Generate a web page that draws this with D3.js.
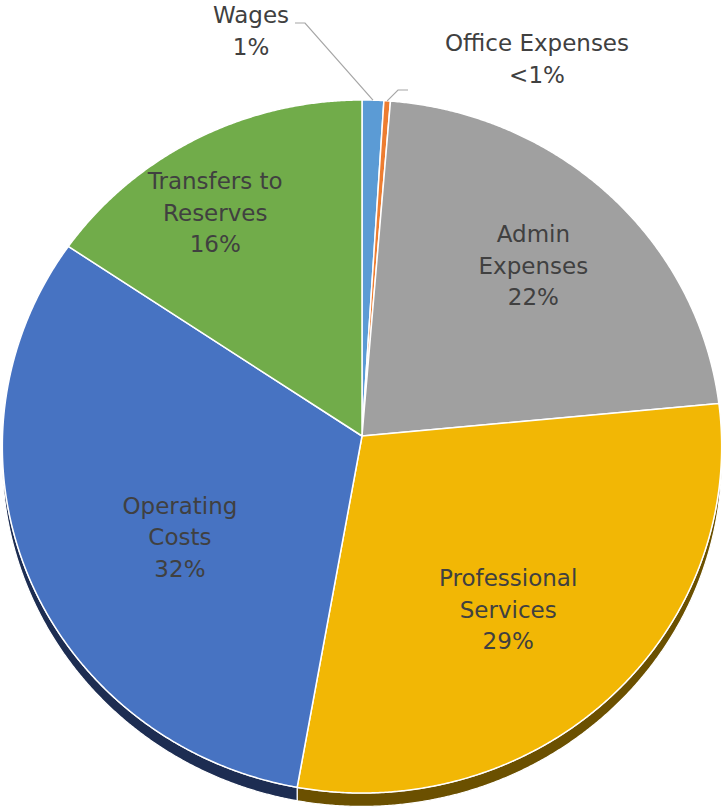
<!DOCTYPE html>
<html>
<head>
<meta charset="utf-8">
<script src="https://cdn.jsdelivr.net/npm/d3@7"></script>
<style>
  html, body { margin: 0; padding: 0; background: #fff; }
  svg { display: block; }
  text { font-family: "DejaVu Sans", sans-serif; font-size: 23px; fill: #404040; }
</style>
</head>
<body>
<svg id="chart" width="723" height="809"></svg>
<script>
// data (share of total, %)
var categories = ["Wages", "Office Expenses", "Admin Expenses", "Professional Services", "Operating Costs", "Transfers to Reserves"];
var values = [1.0, 0.3, 22.2, 29.3, 31.6, 15.6];
var labelLines = [["Wages"], ["Office Expenses"], ["Admin", "Expenses"], ["Professional", "Services"], ["Operating", "Costs"], ["Transfers to", "Reserves"]];

var faceColors = ["#5b9bd5", "#ed7d31", "#a0a0a0", "#f2b705", "#4773c2", "#71ac4a"];
var sideColors = ["#2a4a68", "#6e3a14", "#4d4d4d", "#6b5000", "#1d2d52", "#34521f"];

var svg = d3.select("#chart");

// tilted disc with a little perspective
var cx = 362, cy = 436;
var sx = 359.5, sy = 346.2, persp = 0.0303, depth = 13;

function proj(theta, r, drop) {
  var u = r * Math.sin(theta), v = r * Math.cos(theta);
  var k = 1 / (1 + persp * v);
  return [cx + sx * u * k, cy - sy * v * k + (drop || 0) * k];
}

function arcPoints(a0, a1, r, drop) {
  var n = Math.max(2, Math.ceil((a1 - a0) / 0.005));
  var pts = [];
  for (var i = 0; i <= n; i++) pts.push(proj(a0 + (a1 - a0) * i / n, r, drop));
  return pts;
}

var pie = d3.pie().sort(null).value(function(d) { return d; });
var arcs = pie(values);
var line = d3.line();
var total = d3.sum(values);

// side wall (only the front half shows)
var frontA = Math.PI / 2, frontB = Math.PI * 1.5;
arcs.forEach(function(d, i) {
  var a0 = Math.max(d.startAngle, frontA), a1 = Math.min(d.endAngle, frontB);
  if (a1 <= a0) return;
  var top = arcPoints(a0, a1, 1, 0);
  var bot = arcPoints(a0, a1, 1, depth).reverse();
  svg.append("path")
    .attr("d", line(top.concat(bot)) + "Z")
    .attr("fill", sideColors[i])
    .attr("stroke", "#fff")
    .attr("stroke-width", 1.2)
    .attr("stroke-linejoin", "round");
});

// top faces
arcs.forEach(function(d, i) {
  var pts = [[cx, cy]].concat(arcPoints(d.startAngle, d.endAngle, 1, 0));
  svg.append("path")
    .attr("d", line(pts) + "Z")
    .attr("fill", faceColors[i])
    .attr("stroke", "#fff")
    .attr("stroke-width", 1.5)
    .attr("stroke-linejoin", "round");
});

function pctText(v) {
  var p = v / total * 100;
  return p < 1 ? "<1%" : d3.format(".0f")(p) + "%";
}

function drawLabel(lines, x, y) {
  var t = svg.append("text").attr("text-anchor", "middle");
  var n = lines.length;
  lines.forEach(function(s, j) {
    t.append("tspan")
      .attr("x", x)
      .attr("y", y + (j - (n - 1) / 2) * 31.5)
      .attr("dominant-baseline", "central")
      .text(s);
  });
}

// inside labels: placed along the mid angle, nudged like the original
var labelR = 0.66;
var nudge = { 2: [7, -10], 3: [-17, 3], 4: [38, 11], 5: [-37, -25] };
arcs.forEach(function(d, i) {
  if (!nudge[i]) return;
  var mid = (d.startAngle + d.endAngle) / 2;
  var p = proj(mid, labelR, 0);
  drawLabel(labelLines[i].concat([pctText(values[i])]), p[0] + nudge[i][0], p[1] + nudge[i][1]);
});

// outside labels with leader lines for the thin slices
var outside = { 0: { text: [251, 31], elbow: [[295, 23], [305, 23]] },
                1: { text: [537, 59], elbow: [[408, 90], [398, 90]] } };
Object.keys(outside).forEach(function(key) {
  var i = +key, d = arcs[i], o = outside[i];
  var mid = (d.startAngle + d.endAngle) / 2;
  var end = proj(mid, 1, 0);
  svg.append("path")
    .attr("d", line(o.elbow.concat([end])))
    .attr("fill", "none")
    .attr("stroke", "#a6a6a6")
    .attr("stroke-width", 1.2);
  drawLabel(labelLines[i].concat([pctText(values[i])]), o.text[0], o.text[1]);
});
</script>
</body>
</html>
